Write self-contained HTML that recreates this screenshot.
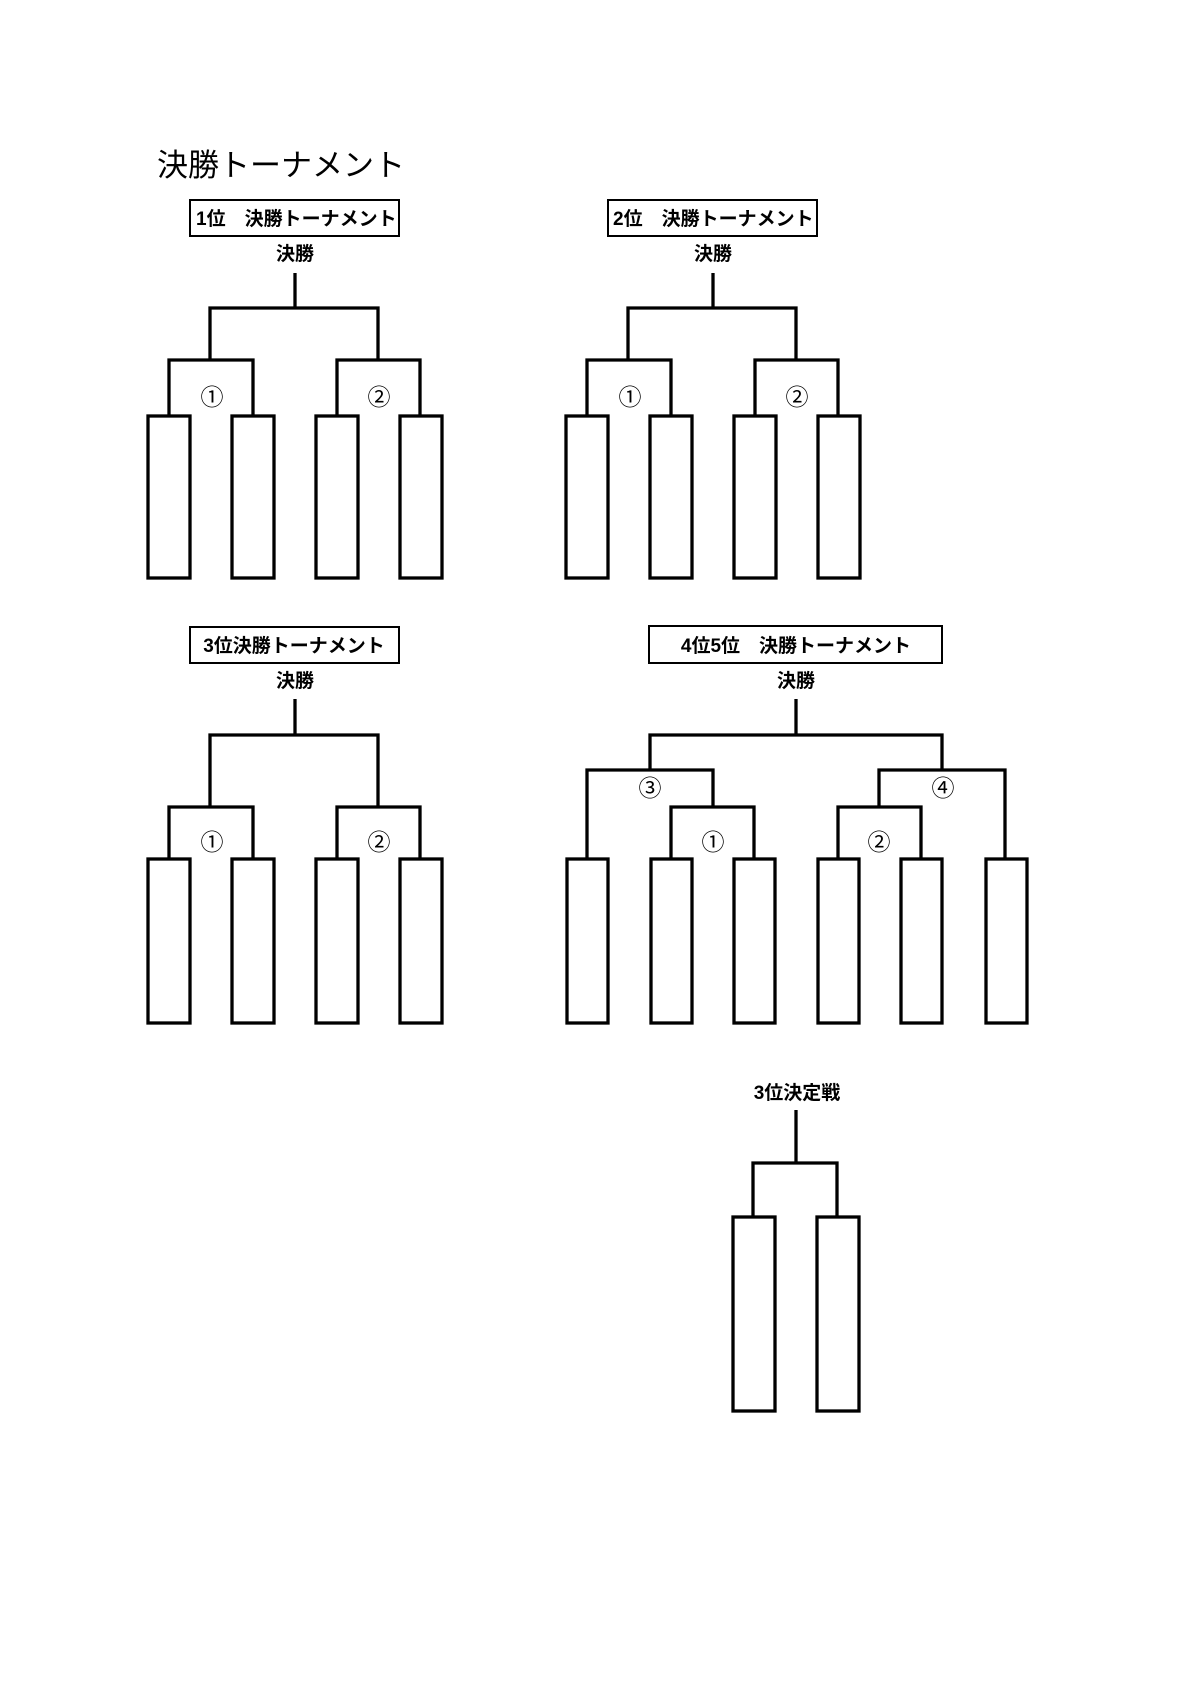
<!DOCTYPE html>
<html><head><meta charset="utf-8"><style>
html,body{margin:0;padding:0;background:#fff;}
svg{display:block}
text{font-family:"Liberation Sans","Noto Sans CJK JP",sans-serif;fill:#000}
.b{font-weight:bold;font-size:19px}
.c{font-size:23px;font-family:"Noto Sans CJK JP",sans-serif}
</style></head><body>
<svg width="1190" height="1683" viewBox="0 0 1190 1683" xmlns="http://www.w3.org/2000/svg">
<text x="157" y="176" font-size="31">決勝トーナメント</text>
<defs>
<g id="four" fill="none" stroke="#000" stroke-width="3.3">
  <polyline points="295,273 295,308"/>
  <polyline points="210,360 210,308 378,308 378,360"/>
  <polyline points="169,416 169,360 253,360 253,416"/>
  <polyline points="337,416 337,360 420,360 420,416"/>
  <rect x="148" y="416" width="42" height="162"/>
  <rect x="232" y="416" width="42" height="162"/>
  <rect x="316" y="416" width="42" height="162"/>
  <rect x="400" y="416" width="42" height="162"/>
</g>
</defs>
<!-- block 1 -->
<rect x="190" y="200" width="209" height="36" fill="none" stroke="#000" stroke-width="2"/>
<text class="b" x="196" y="225">1位　決勝トーナメント</text>
<text class="b" x="295" y="260" text-anchor="middle">決勝</text>
<use href="#four"/>
<text class="c" x="212" y="405" text-anchor="middle">①</text>
<text class="c" x="379" y="405" text-anchor="middle">②</text>
<!-- block 2 -->
<rect x="608" y="200" width="209" height="36" fill="none" stroke="#000" stroke-width="2"/>
<text class="b" x="613" y="225">2位　決勝トーナメント</text>
<text class="b" x="713" y="260" text-anchor="middle">決勝</text>
<use href="#four" transform="translate(418,0)"/>
<text class="c" x="630" y="405" text-anchor="middle">①</text>
<text class="c" x="797" y="405" text-anchor="middle">②</text>
<!-- block 3 -->
<rect x="190" y="627" width="209" height="36" fill="none" stroke="#000" stroke-width="2"/>
<text class="b" x="294" y="652" text-anchor="middle">3位決勝トーナメント</text>
<text class="b" x="295" y="687" text-anchor="middle">決勝</text>
<g fill="none" stroke="#000" stroke-width="3.3">
  <polyline points="295,699 295,735"/>
  <polyline points="210,807 210,735 378,735 378,807"/>
  <polyline points="169,859 169,807 253,807 253,859"/>
  <polyline points="337,859 337,807 420,807 420,859"/>
  <rect x="148" y="859" width="42" height="164"/>
  <rect x="232" y="859" width="42" height="164"/>
  <rect x="316" y="859" width="42" height="164"/>
  <rect x="400" y="859" width="42" height="164"/>
</g>
<text class="c" x="212" y="850" text-anchor="middle">①</text>
<text class="c" x="379" y="850" text-anchor="middle">②</text>
<!-- block 4 -->
<rect x="649" y="626" width="293" height="37" fill="none" stroke="#000" stroke-width="2"/>
<text class="b" x="796" y="652" text-anchor="middle">4位5位　決勝トーナメント</text>
<text class="b" x="796" y="687" text-anchor="middle">決勝</text>
<g fill="none" stroke="#000" stroke-width="3.3">
  <polyline points="796,699 796,735"/>
  <polyline points="650,770 650,735 942,735 942,770"/>
  <polyline points="587,859 587,770 713,770 713,807"/>
  <polyline points="671,859 671,807 754,807 754,859"/>
  <polyline points="879,807 879,770 1005,770 1005,859"/>
  <polyline points="838,859 838,807 921,807 921,859"/>
  <rect x="567" y="859" width="41" height="164"/>
  <rect x="651" y="859" width="41" height="164"/>
  <rect x="734" y="859" width="41" height="164"/>
  <rect x="818" y="859" width="41" height="164"/>
  <rect x="901" y="859" width="41" height="164"/>
  <rect x="986" y="859" width="41" height="164"/>
</g>
<text class="c" x="650" y="796" text-anchor="middle">③</text>
<text class="c" x="713" y="850" text-anchor="middle">①</text>
<text class="c" x="879" y="850" text-anchor="middle">②</text>
<text class="c" x="943" y="796" text-anchor="middle">④</text>
<!-- 3rd place -->
<text class="b" x="797" y="1099" text-anchor="middle">3位決定戦</text>
<g fill="none" stroke="#000" stroke-width="3.3">
  <polyline points="796,1110 796,1163"/>
  <polyline points="753,1217 753,1163 837,1163 837,1217"/>
  <rect x="733" y="1217" width="42" height="194"/>
  <rect x="817" y="1217" width="42" height="194"/>
</g>
</svg>
</body></html>
